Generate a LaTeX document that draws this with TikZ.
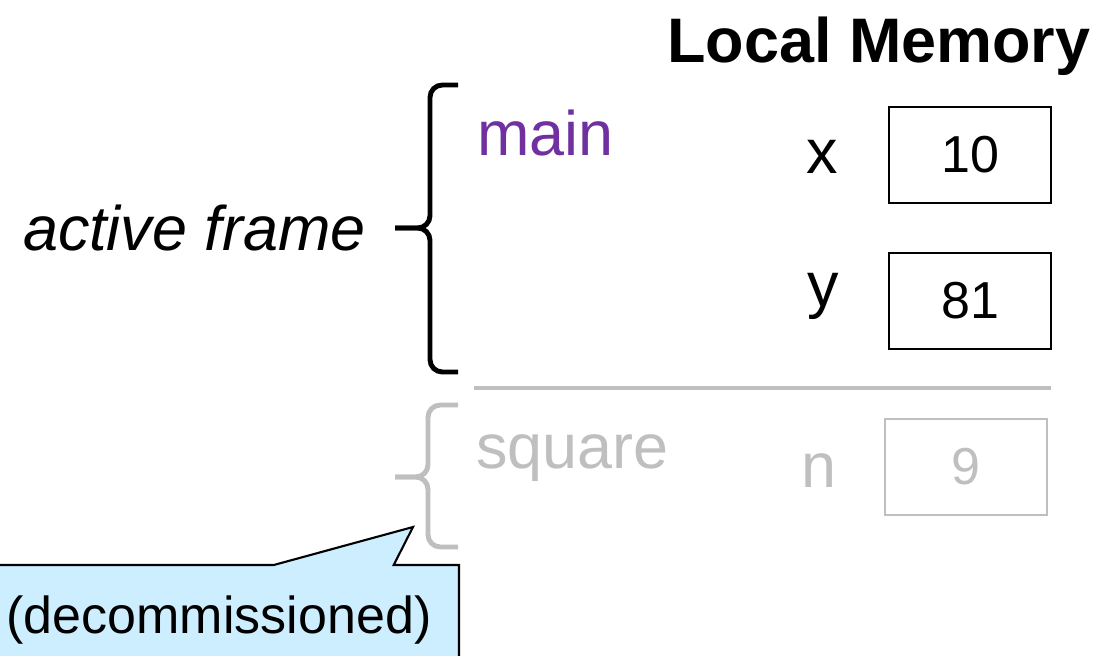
\documentclass[tikz,border=0pt]{standalone}
\usepackage{fontspec}
\setmainfont{Liberation Sans}
\usetikzlibrary{shapes.callouts, positioning}
\definecolor{mainpurple}{HTML}{7030A0}
\definecolor{oldgray}{HTML}{BFBFBF}
\definecolor{noteblue}{HTML}{CCEEFF}

\begin{document}
\begin{tikzpicture}[x=0.02cm, y=-0.02cm]
\tikzstyle{bigtext} = [inner sep=0pt, font=\fontsize{35.8}{40}\selectfont]
\tikzstyle{valuebox} = [rectangle, draw, line width=1.2pt, minimum width=3.24cm, minimum height=1.92cm, font=\fontsize{29.6}{34}\selectfont]
\tikzstyle{framebrace} = [line width=2.8pt, rounded corners=7pt]
\tikzstyle{notecallout} = [rectangle callout, draw, line width=1.2pt, fill=noteblue, minimum width=9.6cm, minimum height=2.2cm, callout pointer width=2.4cm, font=\fontsize{29.6}{34}\selectfont]

\useasboundingbox (0,0) rectangle (1099,656);
\clip (0,0) rectangle (1099,656);

\node (title) [bigtext, font=\fontsize{35.8}{40}\selectfont\bfseries, anchor=base] at (879,62) {Local Memory};

% active frame
\node (mainlabel) [bigtext, text=mainpurple, anchor=base west] at (477,155) {main};
\node (xname) [bigtext, anchor=base] at (822,173) {x};
\node (xbox) [valuebox] at (970,155) {10};
\node (yname) [bigtext, anchor=base] at (823,306) {y};
\node (ybox) [valuebox, below=0.96cm of xbox] {81};

\coordinate (activetip) at (395,228);
\draw[framebrace] (458,85) -- (430,85) -- (430,228) -- (activetip);
\draw[framebrace] (activetip) -- (430,228) -- (430,372) -- (458,372);
\node (activelabel) [bigtext, font=\fontsize{35.8}{40}\selectfont\itshape, anchor=base east] at (366,250) {active frame};

\draw[oldgray, line width=2.3pt] (474,388) -- (1051,388);

% old frame
\node (squarelabel) [bigtext, text=oldgray, anchor=base west] at (476,468) {square};
\node (nname) [bigtext, text=oldgray, anchor=base] at (819,487) {n};
\node (nbox) [valuebox, draw=oldgray, text=oldgray] at (966,467) {9};

\coordinate (oldtip) at (395,477);
\draw[framebrace, oldgray] (458,405) -- (428,405) -- (428,477) -- (oldtip);
\draw[framebrace, oldgray] (oldtip) -- (428,477) -- (428,547) -- (458,547);

\coordinate (notetip) at (413,527);
\node (decom) [notecallout, callout absolute pointer={(notetip)}] at (219,620) {(decommissioned)};

\end{tikzpicture}
\end{document}
